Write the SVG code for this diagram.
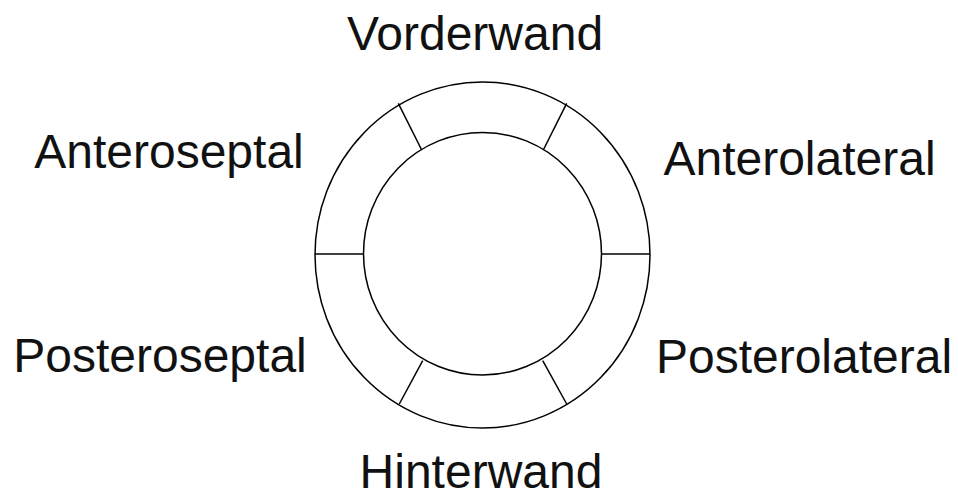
<svg xmlns="http://www.w3.org/2000/svg" width="958" height="497" viewBox="0 0 958 497">
<style>
.ring{fill:none;stroke:#000;stroke-width:1.5}
.lbl{font-family:"Liberation Sans",Arial,sans-serif;font-size:48px;fill:#111;text-anchor:middle}
.div{stroke:#000;stroke-width:1.5;fill:none}
</style>
<rect width="958" height="497" fill="#fff"/>
<g id="ring-outer"><ellipse class="ring" cx="482.5" cy="255" rx="167.5" ry="173"/></g>
<g id="ring-inner"><ellipse class="ring" cx="482.5" cy="253.7" rx="119" ry="121.3"/></g>
<g id="connectors">
<line class="div" x1="315" y1="254" x2="363.5" y2="254"/>
<line class="div" x1="601.5" y1="254" x2="650" y2="254"/>
<line class="div" x1="398.3" y1="103.3" x2="421.7" y2="150"/>
<line class="div" x1="566.7" y1="103.3" x2="543.3" y2="150"/>
<line class="div" x1="422.7" y1="360.7" x2="399.3" y2="404"/>
<line class="div" x1="542.7" y1="360.7" x2="566.7" y2="404"/>
</g>
<g id="vorderwand"><text class="lbl" x="475" y="50">Vorderwand</text></g>
<g id="anteroseptal"><text class="lbl" x="169" y="168">Anteroseptal</text></g>
<g id="anterolateral"><text class="lbl" x="799.5" y="175">Anterolateral</text></g>
<g id="posteroseptal"><text class="lbl" x="160" y="372">Posteroseptal</text></g>
<g id="posterolateral"><text class="lbl" x="804" y="373">Posterolateral</text></g>
<g id="hinterwand"><text class="lbl" x="481" y="488">Hinterwand</text></g>
</svg>
